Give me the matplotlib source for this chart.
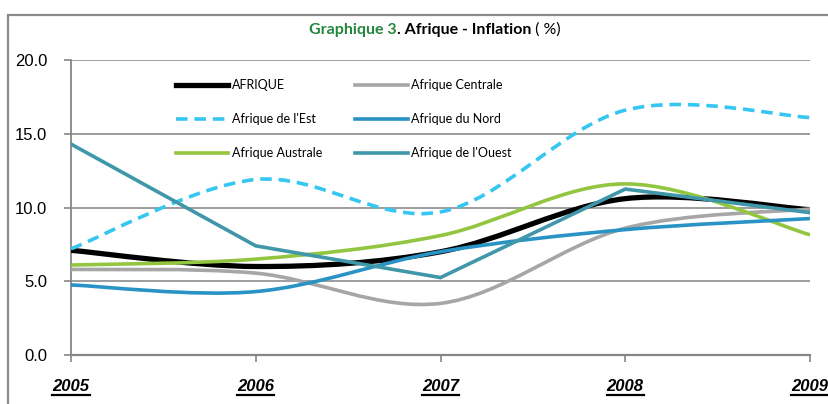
import numpy as np
import matplotlib
matplotlib.use('Agg')
import matplotlib.pyplot as plt
from matplotlib.path import Path
from matplotlib.patches import PathPatch, Rectangle
from matplotlib.lines import Line2D

plt.rcParams['font.family'] = ['Lato', 'DejaVu Sans']

# data
years = [2005, 2006, 2007, 2008, 2009]
afrique = [7.1, 6.0, 7.0, 10.6, 9.85]
centrale = [5.8, 5.55, 3.5, 8.6, 9.9]
est = [7.2, 11.9, 9.7, 16.6, 16.1]
nord = [4.75, 4.3, 7.0, 8.5, 9.25]
australe = [6.1, 6.5, 8.1, 11.6, 8.15]
ouest = [14.3, 7.4, 5.25, 11.25, 9.65]

y_ticks = [0, 5, 10, 15, 20]


def smooth_path(xs, ys):
    # excel-like smoothed line: catmull-rom turned into cubic bezier
    pts = np.column_stack([xs, ys]).astype(float)
    n = len(pts)
    verts = [pts[0]]
    codes = [Path.MOVETO]
    for i in range(n - 1):
        p0 = pts[i - 1] if i > 0 else pts[i]
        p1 = pts[i]
        p2 = pts[i + 1]
        p3 = pts[i + 2] if i + 2 < n else pts[i + 1]
        c1 = p1 + (p2 - p0) / 6.0
        c2 = p2 - (p3 - p1) / 6.0
        verts += [c1, c2, p2]
        codes += [Path.CURVE4] * 3
    return Path(verts, codes)


fig = plt.figure(figsize=(8.29, 4.04), dpi=100)
ax = fig.add_axes([71 / 829, 49 / 404, 739 / 829, 295 / 404])

series = [
    ('AFRIQUE', afrique, '#000000', 3.8, '-', True),
    ('Afrique Centrale', centrale, '#a6a6a6', 2.6, '-', True),
    ("Afrique de l'Est", est, '#35c6f2', 2.6, (0, (3.2, 1.9)), True),
    ('Afrique du Nord', nord, '#2a93c5', 2.6, '-', True),
    ('Afrique Australe', australe, '#92c640', 2.6, '-', True),
    ("Afrique de l'Ouest", ouest, '#3f97a9', 2.6, '-', False),
]

# draw order: keep AFRIQUE under the regions like the original
draw_order = [0, 1, 2, 4, 3, 5]
handles = {}
for k in draw_order:
    name, vals, col, lw, ls, smooth = series[k]
    if smooth:
        p = smooth_path(years, vals)
        patch = PathPatch(p, fill=False, edgecolor=col, lw=lw, linestyle=ls,
                          transform=ax.transData, zorder=3, capstyle='butt',
                          joinstyle='round')
        ax.add_patch(patch)
    else:
        ax.plot(years, vals, color=col, lw=lw, ls=ls, zorder=3,
                solid_joinstyle='miter')
    handles[k] = Line2D([], [], color=col, lw=lw, ls=ls)

ax.set_xlim(2005, 2009)
ax.set_ylim(0, 20)
ax.set_yticks(y_ticks)
ax.set_yticklabels(['%.1f' % v for v in y_ticks], fontsize=12,
                   family=['Liberation Sans'])
ax.set_xticks(years)
ax.set_xticklabels([str(y) for y in years], fontsize=12, fontweight='bold',
                   fontstyle='italic', family=['Liberation Sans'])
ax.tick_params(axis='y', length=5, width=1.2, color='#868686', pad=12)
ax.tick_params(axis='x', length=5, width=1.2, color='#868686', pad=12)

ax.grid(axis='y', color='#8c8c8c', lw=1.2, zorder=1)
ax.set_axisbelow(True)
for s in ['top', 'right']:
    ax.spines[s].set_visible(False)
ax.spines['left'].set_color('#868686')
ax.spines['left'].set_linewidth(1.3)
ax.spines['bottom'].set_color('#868686')
ax.spines['bottom'].set_linewidth(1.6)

# legend: 3 rows x 2 columns, filled column-wise
leg_order = [0, 2, 4, 1, 3, 5]
ax.legend([handles[k] for k in leg_order], [series[k][0] for k in leg_order],
          ncol=2, frameon=False, loc='upper left',
          bbox_to_anchor=(0.142, 0.935), fontsize=9,
          handlelength=4.2, handletextpad=0.3, labelspacing=1.75,
          columnspacing=2.6, borderpad=0, borderaxespad=0)

# outer frame of the chart
fig.patches.append(Rectangle((8 / 829, -0.2), 1.5, 0.963 + 0.2,
                             transform=fig.transFigure, fill=False,
                             ec='#8a8a8a', lw=1.6, clip_on=False))

fig.canvas.draw()
r = fig.canvas.get_renderer()

# underline the year labels
for lab in ax.get_xticklabels():
    bb = lab.get_window_extent(r)
    yline = bb.y0 - 1
    fig.add_artist(Line2D([bb.x0 / 829, bb.x1 / 829],
                          [yline / 404, yline / 404],
                          transform=fig.transFigure, color='black', lw=1.6))

# title in three pieces
parts = [('Graphique 3', '#23883c', 'bold'),
         ('. Afrique - Inflation', '#000000', 'bold'),
         (' ( %)', '#000000', 'normal')]
texts = []
x = 0
for s, c, w in parts:
    t = fig.text(x, 1 - 30 / 404, s, color=c, fontweight=w, fontsize=11.5,
                 va='center', ha='left')
    fig.canvas.draw()
    bb = t.get_window_extent(r)
    x = (bb.x1) / 829
    texts.append(t)
total = texts[-1].get_window_extent(r).x1 - texts[0].get_window_extent(r).x0
start = 435 - total / 2
for t in texts:
    bb = t.get_window_extent(r)
    t.set_x((start + bb.x0) / 829)

fig.savefig('out.png', dpi=100)
